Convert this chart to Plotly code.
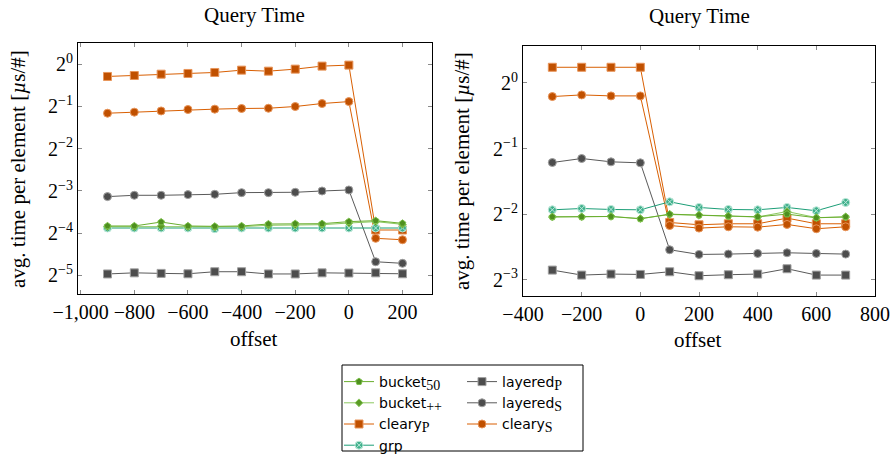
import plotly.graph_objects as go
import math

# ---------------- data ----------------
offsets_left = [-900, -800, -700, -600, -500, -400, -300, -200, -100, 0, 100, 200]
offsets_right = [-300, -200, -100, 0, 100, 200, 300, 400, 500, 600, 700]

# left panel values (µs per element)
left_bucket50 = [0.0703, 0.0703, 0.0750, 0.0703, 0.0699, 0.0703, 0.0726, 0.0730, 0.0730, 0.0755, 0.0767, 0.0734]
left_bucketpp = [0.0695, 0.0695, 0.0699, 0.0695, 0.0691, 0.0695, 0.0711, 0.0715, 0.0718, 0.0738, 0.0755, 0.0722]
left_clearyP = [0.817, 0.830, 0.848, 0.858, 0.872, 0.906, 0.891, 0.921, 0.968, 0.984, 0.0658, 0.0658]
left_grp = [0.0680, 0.0680, 0.0680, 0.0680, 0.0673, 0.0680, 0.0680, 0.0680, 0.0680, 0.0680, 0.0680, 0.0680]
left_layeredP = [0.0320, 0.0326, 0.0323, 0.0321, 0.0332, 0.0332, 0.0320, 0.0320, 0.0326, 0.0325, 0.0326, 0.0321]
left_layeredS = [0.1138, 0.1163, 0.1163, 0.1176, 0.1182, 0.1215, 0.1215, 0.1222, 0.1248, 0.1269, 0.0391, 0.0381]
left_clearyS = [0.447, 0.455, 0.464, 0.475, 0.478, 0.483, 0.485, 0.499, 0.524, 0.541, 0.0574, 0.0561]

# right panel values (µs per element)
right_bucket50 = [0.2430, 0.2430, 0.2438, 0.2380, 0.2500, 0.2474, 0.2448, 0.2430, 0.2500, 0.2405, 0.2430]
right_bucketpp = [0.2425, 0.2428, 0.2440, 0.2385, 0.2490, 0.2470, 0.2450, 0.2425, 0.2570, 0.2410, 0.2425]
right_clearyP = [1.180, 1.180, 1.180, 1.180, 0.2289, 0.2234, 0.2258, 0.2258, 0.2397, 0.2258, 0.2258]
right_grp = [0.2617, 0.2653, 0.2626, 0.2617, 0.2848, 0.2683, 0.2626, 0.2617, 0.2683, 0.2590, 0.2829]
right_layeredP = [0.1384, 0.1313, 0.1327, 0.1322, 0.1360, 0.1304, 0.1318, 0.1327, 0.1404, 0.1313, 0.1313]
right_layeredS = [0.4314, 0.4500, 0.4344, 0.4299, 0.1716, 0.1633, 0.1639, 0.1650, 0.1662, 0.1650, 0.1639]
right_clearyS = [0.866, 0.881, 0.872, 0.872, 0.2217, 0.2157, 0.2187, 0.2179, 0.2242, 0.2142, 0.2187]

left_xticks = [-1000, -800, -600, -400, -200, 0, 200]
left_xticktext = ["−1,000", "−800", "−600", "−400", "−200", "0", "200"]
right_xticks = [-400, -200, 0, 200, 400, 600, 800]
right_xticktext = ["−400", "−200", "0", "200", "400", "600", "800"]
left_yexp = [-5, -4, -3, -2, -1, 0]
right_yexp = [-3, -2, -1, 0]

SERIF = "Liberation Serif"
SANS = "DejaVu Sans"
FS = 20

def sub(s):
    return f'<sub><span style="font-family:{SERIF};font-size:14px">{s}</span></sub>\u00a0\u00a0'

styles = {
    "bucket50": dict(name="bucket" + sub("50"), line="#6aae2e", fill="#4e8f1f", mline="#7cc04a", symbol="pentagon", size=7, legend="legend"),
    "bucketpp": dict(name="bucket" + sub("++"), line="#8cc860", fill="#5a9a25", mline="#8cc860", symbol="diamond", size=6, legend="legend"),
    "clearyP": dict(name="cleary" + sub("P"), line="#d95f02", fill="#c05000", mline="#e8955a", symbol="square", size=8, legend="legend"),
    "grp": dict(name="grp", line="#1b9e77", fill="#3fb08c", mline="#bfe9da", symbol="circle-x", size=8, legend="legend"),
    "layeredP": dict(name="layered" + sub("P"), line="#5a5a5a", fill="#4d4d4d", mline="#a0a0a0", symbol="square", size=8, legend="legend2"),
    "layeredS": dict(name="layered" + sub("S"), line="#5a5a5a", fill="#4d4d4d", mline="#a0a0a0", symbol="circle", size=8, legend="legend2"),
    "clearyS": dict(name="cleary" + sub("S"), line="#d95f02", fill="#c05000", mline="#e8955a", symbol="circle", size=8, legend="legend2"),
}

left_data = {"bucket50": left_bucket50, "bucketpp": left_bucketpp, "clearyP": left_clearyP, "grp": left_grp,
             "layeredP": left_layeredP, "layeredS": left_layeredS, "clearyS": left_clearyS}
right_data = {"bucket50": right_bucket50, "bucketpp": right_bucketpp, "clearyP": right_clearyP, "grp": right_grp,
              "layeredP": right_layeredP, "layeredS": right_layeredS, "clearyS": right_clearyS}

draw_order = ["layeredP", "layeredS", "clearyP", "clearyS", "grp", "bucketpp", "bucket50"]
legend_order = ["bucket50", "bucketpp", "clearyP", "grp", "layeredP", "layeredS", "clearyS"]

fig = go.Figure()

for panel, (xs, data, xa, ya) in enumerate([(offsets_left, left_data, "x", "y"), (offsets_right, right_data, "x2", "y2")]):
    for key in draw_order:
        st = styles[key]
        fig.add_trace(go.Scatter(
            x=xs, y=data[key], xaxis=xa, yaxis=ya, mode="lines+markers",
            name=st["name"], legend=st["legend"], legendgroup=key,
            legendrank=legend_order.index(key) + 1,
            showlegend=(panel == 0),
            line=dict(color=st["line"], width=1),
            marker=dict(symbol=st["symbol"], size=st["size"], color=st["fill"],
                        line=dict(color=st["mline"], width=1)),
        ))

axis_common = dict(
    showgrid=False, zeroline=False, showline=True, linecolor="black", linewidth=1,
    mirror="allticks", ticks="inside", ticklen=4, tickcolor="#8a8a8a", tickwidth=1,
    automargin=False,
    tickfont=dict(family=SERIF, size=FS, color="black"),
)

L2 = math.log10(2)
W, H = 894, 461

def px(x0, x1):
    return [x0 / W, x1 / W]

def py(y_top, y_bot):
    return [1 - y_bot / H, 1 - y_top / H]

legend_common = dict(
    yanchor="top", xanchor="left", orientation="v",
    bgcolor="rgba(0,0,0,0)", borderwidth=0,
    font=dict(family=SANS, size=14, color="black"), tracegroupgap=0,
    itemwidth=30, xref="container", yref="container",
)

fig.update_layout(
    template="none",
    width=W, height=H, autosize=False,
    margin=dict(l=0, r=0, t=0, b=0, autoexpand=False),
    paper_bgcolor="white", plot_bgcolor="white",
    font=dict(family=SERIF, size=FS, color="black"),
    xaxis=dict(axis_common, domain=px(78, 432), anchor="y", range=[-1010, 310],
               tickvals=left_xticks, ticktext=left_xticktext),
    yaxis=dict(axis_common, domain=py(43, 294), anchor="x", type="log",
               range=[-5.44 * L2, 0.5 * L2],
               tickvals=[2.0 ** e for e in left_yexp],
               ticktext=[f"2<sup>{'−' if e < 0 else ''}{abs(e)}</sup>" for e in left_yexp]),
    xaxis2=dict(axis_common, domain=px(523, 875), anchor="y2", range=[-400, 800],
                tickvals=right_xticks, ticktext=right_xticktext),
    yaxis2=dict(axis_common, domain=py(46, 296), anchor="x2", type="log",
                range=[-3.248 * L2, 0.563 * L2],
                tickvals=[2.0 ** e for e in right_yexp],
                ticktext=[f"2<sup>{'−' if e < 0 else ''}{abs(e)}</sup>" for e in right_yexp]),
    legend=dict(legend_common, x=339 / W, y=1 - 366 / H),
    legend2=dict(legend_common, x=462 / W, y=1 - 366 / H),
    showlegend=True,
)

# legend frame
fig.add_shape(type="rect", xref="paper", yref="paper",
              x0=342 / W, x1=583 / W, y0=1 - 451 / H, y1=1 - 365 / H,
              line=dict(color="black", width=1), fillcolor="rgba(0,0,0,0)")

annots = [
    dict(text="Query Time", x=254 / W, y=1 - 15 / H),
    dict(text="Query Time", x=699 / W, y=1 - 16 / H),
    dict(text="offset", x=254 / W, y=1 - 339 / H),
    dict(text="offset", x=698 / W, y=1 - 340 / H),
    dict(text="avg. time per element [<i>µ</i>s/#]", x=18 / W, y=1 - 169 / H, textangle=-90),
    dict(text="avg. time per element [<i>µ</i>s/#]", x=462 / W, y=1 - 171 / H, textangle=-90),
]
for a in annots:
    fig.add_annotation(xref="paper", yref="paper", showarrow=False,
                       xanchor="center", yanchor="middle",
                       font=dict(family=SERIF, size=FS + 1, color="black"), **a)

fig.write_html("out.html", config={"displayModeBar": False},
               post_script="document.body.style.margin='0px';")
